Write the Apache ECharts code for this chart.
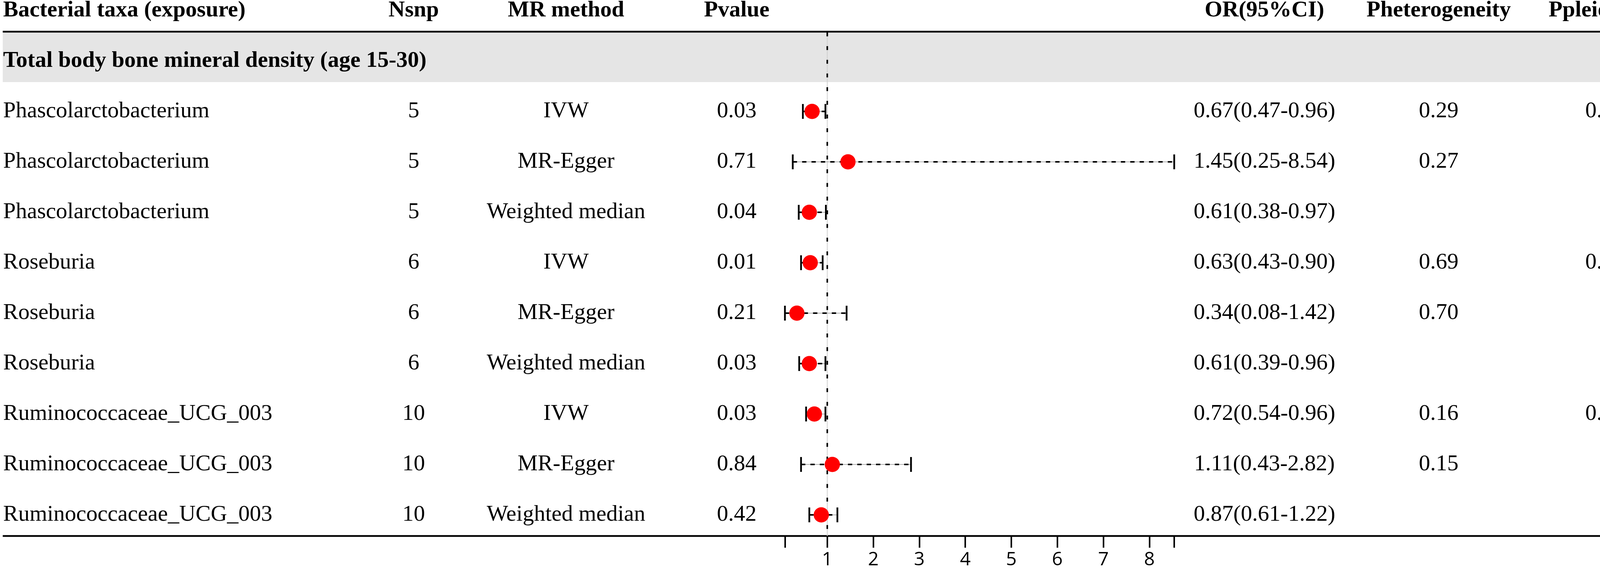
<!DOCTYPE html>
<html>
<head>
<meta charset="utf-8">
<script src="https://cdn.jsdelivr.net/npm/echarts@6/dist/echarts.min.js"></script>
<style>
html, body { margin: 0; padding: 0; background: #fff; }
#main { width: 4328px; height: 1458px; }
</style>
</head>
<body>
<div id="main"></div>
<script>
// data
var taxa = ['Phascolarctobacterium', 'Phascolarctobacterium', 'Phascolarctobacterium',
            'Roseburia', 'Roseburia', 'Roseburia',
            'Ruminococcaceae_UCG_003', 'Ruminococcaceae_UCG_003', 'Ruminococcaceae_UCG_003'];
var nsnp = [5, 5, 5, 6, 6, 6, 10, 10, 10];
var methods = ['IVW', 'MR-Egger', 'Weighted median', 'IVW', 'MR-Egger', 'Weighted median',
               'IVW', 'MR-Egger', 'Weighted median'];
var pvalues = [0.03, 0.71, 0.04, 0.01, 0.21, 0.03, 0.03, 0.84, 0.42];
var orValues = [0.67, 1.45, 0.61, 0.63, 0.34, 0.61, 0.72, 1.11, 0.87];
var ciLow = [0.47, 0.25, 0.38, 0.43, 0.08, 0.39, 0.54, 0.43, 0.61];
var ciHigh = [0.96, 8.54, 0.97, 0.90, 1.42, 0.96, 0.96, 2.82, 1.22];
var pHet = [0.29, 0.27, null, 0.69, 0.70, null, 0.16, 0.15, null];
var pPleio = [0.45, null, null, 0.43, null, null, 0.37, null, null];
var headers = ['Bacterial taxa (exposure)', 'Nsnp', 'MR method', 'Pvalue', 'OR(95%CI)', 'Pheterogeneity', 'Ppleiotropy'];
var sectionTitle = 'Total body bone mineral density (age 15-30)';
var tickValues = [0.08, 1, 2, 3, 4, 5, 6, 7, 8, 8.54];
var tickLabels = [1, 2, 3, 4, 5, 6, 7, 8];

// layout
var W = 4328, ROW0 = 27, ROWH = 129, AXIS_Y = 1371;
var colX = [8, 1059, 1449, 1886, 3237, 3683, 4109];
var colAlign = ['left', 'center', 'center', 'center', 'center', 'center', 'center'];
var FOREST_LEFT = 2000, UNIT = 117.8, X_MAX = 10;
var SERIF = '"Liberation Serif", "Times New Roman", serif';

function rowOf(px) { return (px - ROW0) / ROWH; }
var yMin = rowOf(0), yMax = rowOf(AXIS_Y);

function fmt(v) { return v == null ? '' : v.toFixed(2); }

// table cells
var cells = [];
headers.forEach(function (h, c) {
    cells.push({ x: colX[c], row: 0, text: h, bold: true, align: colAlign[c] });
});
cells.push({ x: colX[0], row: 1, text: sectionTitle, bold: true, align: 'left' });
taxa.forEach(function (t, i) {
    var vals = [t, String(nsnp[i]), methods[i], fmt(pvalues[i]),
        fmt(orValues[i]) + '(' + fmt(ciLow[i]) + '-' + fmt(ciHigh[i]) + ')',
        fmt(pHet[i]), fmt(pPleio[i])];
    vals.forEach(function (v, c) {
        if (v !== '') cells.push({ x: colX[c], row: i + 2, text: v, bold: false, align: colAlign[c] });
    });
});

var myChart = echarts.init(document.getElementById('main'));
var option = {
    animation: false,
    backgroundColor: '#fff',
    grid: [
        { left: 0, top: 0, width: W, height: AXIS_Y },
        { left: FOREST_LEFT, top: 0, width: UNIT * X_MAX, height: AXIS_Y }
    ],
    xAxis: [
        { gridIndex: 0, type: 'value', min: 0, max: W, show: false },
        {
            gridIndex: 1, type: 'value', min: 0, max: X_MAX, position: 'bottom',
            axisLine: { show: false, onZero: false },
            splitLine: { show: false },
            axisTick: { show: true, customValues: tickValues, length: 30, lineStyle: { color: '#000', width: 4 } },
            axisLabel: { customValues: tickLabels, margin: 61, verticalAlign: 'middle',
                         fontFamily: 'Open Sans', fontSize: 48, color: '#000' }
        }
    ],
    yAxis: [
        { gridIndex: 0, type: 'value', min: yMin, max: yMax, inverse: true, show: false },
        { gridIndex: 1, type: 'value', min: yMin, max: yMax, inverse: true, show: false }
    ],
    series: [
        {
            // band and horizontal rules
            type: 'custom', xAxisIndex: 0, yAxisIndex: 0, z: 1, silent: true,
            data: [[0, 0]],
            renderItem: function (params, api) {
                var b0 = api.coord([7, rowOf(83)]), b1 = api.coord([4321, rowOf(210)]);
                var t0 = api.coord([7, rowOf(81)]), t1 = api.coord([4321, rowOf(81)]);
                var d0 = api.coord([7, yMax]), d1 = api.coord([4321, yMax]);
                return {
                    type: 'group', children: [
                        { type: 'rect', shape: { x: b0[0], y: b0[1], width: b1[0] - b0[0], height: b1[1] - b0[1] },
                          style: { fill: '#e5e5e5' } },
                        { type: 'line', shape: { x1: t0[0], y1: t0[1], x2: t1[0], y2: t1[1] },
                          style: { stroke: '#000', lineWidth: 4.5 } },
                        { type: 'line', shape: { x1: d0[0], y1: d0[1], x2: d1[0], y2: d1[1] },
                          style: { stroke: '#000', lineWidth: 4.5 } }
                    ]
                };
            }
        },
        {
            // table text
            type: 'custom', xAxisIndex: 0, yAxisIndex: 0, z: 3, silent: true,
            data: cells.map(function (c) { return [c.x, c.row]; }),
            renderItem: function (params, api) {
                var c = cells[params.dataIndex];
                var p = api.coord([api.value(0), api.value(1)]);
                return {
                    type: 'text', x: p[0], y: p[1],
                    style: {
                        text: c.text, fill: '#000',
                        font: (c.bold ? 'bold ' : '') + '58px ' + SERIF,
                        align: c.align, verticalAlign: 'middle'
                    }
                };
            }
        },
        {
            // reference line at OR = 1
            type: 'custom', xAxisIndex: 1, yAxisIndex: 1, z: 2, silent: true,
            data: [[1]],
            renderItem: function (params, api) {
                var a = api.coord([api.value(0), rowOf(83)]);
                var b = api.coord([api.value(0), yMax]);
                return {
                    type: 'group', children: [
                        { type: 'line', shape: { x1: a[0], y1: a[1], x2: b[0], y2: b[1] },
                          style: { stroke: '#d0d0d0', lineWidth: 2 } },
                        { type: 'line', shape: { x1: a[0], y1: a[1], x2: b[0], y2: b[1] },
                          style: { stroke: '#000', lineWidth: 4, lineDash: [10, 25] } }
                    ]
                };
            }
        },
        {
            // confidence intervals
            type: 'custom', xAxisIndex: 1, yAxisIndex: 1, z: 4, silent: true,
            data: ciLow.map(function (lo, i) { return [lo, ciHigh[i], i + 2]; }),
            renderItem: function (params, api) {
                var a = api.coord([api.value(0), api.value(2)]);
                var b = api.coord([api.value(1), api.value(2)]);
                var h = 19;
                return {
                    type: 'group', children: [
                        { type: 'line', shape: { x1: a[0], y1: a[1], x2: b[0], y2: b[1] },
                          style: { stroke: '#999', lineWidth: 1.5 } },
                        { type: 'line', shape: { x1: a[0], y1: a[1], x2: b[0], y2: b[1] },
                          style: { stroke: '#000', lineWidth: 4, lineDash: [11, 13] } },
                        { type: 'line', shape: { x1: a[0], y1: a[1] - h, x2: a[0], y2: a[1] + h },
                          style: { stroke: '#000', lineWidth: 4.5 } },
                        { type: 'line', shape: { x1: b[0], y1: b[1] - h, x2: b[0], y2: b[1] + h },
                          style: { stroke: '#000', lineWidth: 4.5 } }
                    ]
                };
            }
        },
        {
            name: 'OR',
            type: 'scatter', xAxisIndex: 1, yAxisIndex: 1, z: 5,
            symbol: 'circle', symbolSize: 39,
            itemStyle: { color: '#ff0000', opacity: 1 },
            data: orValues.map(function (v, i) { return [v, i + 2]; })
        }
    ]
};
myChart.setOption(option);
</script>
</body>
</html>
